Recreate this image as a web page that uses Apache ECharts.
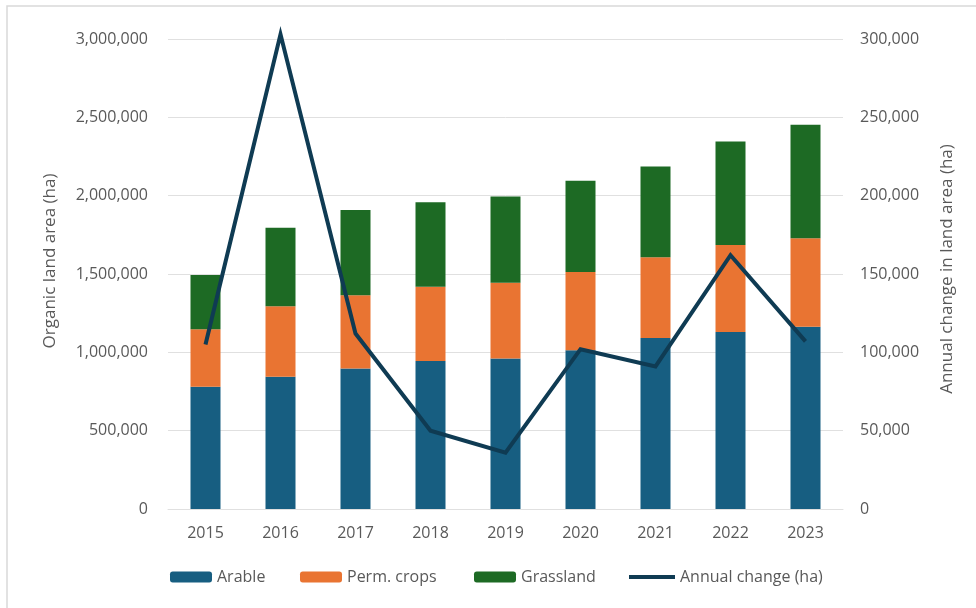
<!DOCTYPE html>
<html>
<head>
<meta charset="utf-8">
<script src="https://cdn.jsdelivr.net/npm/echarts@6/dist/echarts.min.js"></script>
<style>
  html, body { margin: 0; padding: 0; background: #ffffff; }
  #chart { width: 976px; height: 608px; }
</style>
</head>
<body>
<div id="chart"></div>
<script>
// Organic land area by type (ha) and its year-on-year change
const years = ['2015', '2016', '2017', '2018', '2019', '2020', '2021', '2022', '2023'];
const arable = [780000, 844000, 897000, 944000, 961000, 1014000, 1091000, 1129000, 1163000];
const permCrops = [367000, 450000, 467000, 475000, 483000, 499000, 516000, 556000, 565000];
const grassland = [347000, 502000, 545000, 539000, 550000, 583000, 579000, 660000, 724000];
const annualChange = [105000, 303000, 112000, 50000, 36000, 102000, 91000, 162000, 107000];

const leftTicks = { min: 0, max: 3000000, interval: 500000 };
const rightTicks = { min: 0, max: 300000, interval: 50000 };

const FONT = 'Open Sans';
const TEXT = '#595959';
const GRID = '#e0e0e0';
const LINE = '#0f3b53';

const fmt = v => v.toLocaleString('en-US');

const chart = echarts.init(document.getElementById('chart'), null, { renderer: 'canvas' });

const legendText = { color: TEXT, fontFamily: FONT, fontSize: 16 };
function legendAt(item, left, w, h, top) {
  return {
    data: [item], left: left, top: top, itemWidth: w, itemHeight: h,
    textStyle: legendText, selectedMode: false, padding: 0
  };
}

chart.setOption({
  animation: false,
  backgroundColor: '#ffffff',
  textStyle: { fontFamily: FONT },
  grid: { left: 168, right: 133, top: 39, bottom: 99, containLabel: false },
  graphic: [
    { type: 'rect', shape: { x: 7, y: 6, width: 1000, height: 700 },
      style: { fill: 'none', stroke: '#d9d9d9', lineWidth: 1.5 }, z: -10 },
    { type: 'text', x: 50, y: 261, rotation: Math.PI / 2,
      style: { text: 'Organic land area (ha)', fill: TEXT, font: '17px "Open Sans"',
               align: 'center', verticalAlign: 'middle' } },
    { type: 'text', x: 947, y: 269, rotation: Math.PI / 2,
      style: { text: 'Annual change in land area (ha)', fill: TEXT, font: '17px "Open Sans"',
               align: 'center', verticalAlign: 'middle' } }
  ],
  legend: [
    legendAt('Arable', 170, 42, 11, 569),
    legendAt('Perm. crops', 300, 42, 11, 569),
    legendAt('Grassland', 474, 42, 11, 569),
    legendAt({ name: 'Annual change (ha)', icon: 'rect' }, 629, 46, 4, 569)
  ],
  xAxis: {
    type: 'category', data: years,
    axisLine: { lineStyle: { color: GRID, width: 1 } },
    axisTick: { show: false },
    axisLabel: { color: TEXT, fontSize: 16, fontFamily: FONT, margin: 16 }
  },
  yAxis: [
    {
      type: 'value', min: leftTicks.min, max: leftTicks.max, interval: leftTicks.interval,
      axisLine: { show: false }, axisTick: { show: false },
      splitLine: { lineStyle: { color: GRID, width: 1 } },
      axisLabel: { color: TEXT, fontSize: 16, fontFamily: FONT, margin: 20, formatter: fmt }
    },
    {
      type: 'value', min: rightTicks.min, max: rightTicks.max, interval: rightTicks.interval,
      position: 'right',
      axisLine: { show: false }, axisTick: { show: false }, splitLine: { show: false },
      axisLabel: { color: TEXT, fontSize: 16, fontFamily: FONT, margin: 17, formatter: fmt }
    }
  ],
  series: [
    { name: 'Arable', type: 'bar', stack: 'area', data: arable, barWidth: 30,
      itemStyle: { color: '#175e81' } },
    { name: 'Perm. crops', type: 'bar', stack: 'area', data: permCrops, barWidth: 30,
      itemStyle: { color: '#e97432' } },
    { name: 'Grassland', type: 'bar', stack: 'area', data: grassland, barWidth: 30,
      itemStyle: { color: '#1d6a24' } },
    { name: 'Annual change (ha)', type: 'line', yAxisIndex: 1, data: annualChange,
      symbol: 'none', clip: false, z: 5,
      lineStyle: { color: LINE, width: 4, join: 'miter' },
      itemStyle: { color: LINE } }
  ]
});
</script>
</body>
</html>
